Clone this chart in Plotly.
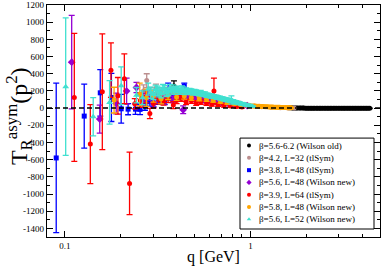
import plotly.graph_objects as go

# ---------------- data ----------------
black_q = [0.387, 1.62, 1.65, 1.68, 1.71, 1.74, 1.77, 1.80, 1.84, 1.87, 1.91, 1.94, 1.98, 2.02, 2.06,
           2.10, 2.14, 2.18, 2.22, 2.27, 2.31, 2.36, 2.40, 2.45, 2.50, 2.55, 2.60, 2.65, 2.70, 2.75,
           2.81, 2.86, 2.92, 2.98, 3.04, 3.10, 3.16, 3.22, 3.28, 3.35, 3.41, 3.48, 3.55, 3.62, 3.69,
           3.76, 3.84, 3.91, 3.99, 4.07, 4.15, 4.23, 4.31, 4.40]
black_v = [256, 3, 3, 2, 2, 2, 1, 1, 1, 0, 0, 0, -1, -1, -1, -1, -2, -2, -2, -2, -2, -2, -3, -3, -3,
           -3, -3, -3, -3, -3, -3, -3, -3, -3, -3, -3, -3, -3, -3, -3, -3, -3, -3, -3, -3, -3, -3,
           -3, -3, -3, -3, -3, -3, -3]
black_e = [60, 4, 4, 4, 3, 3, 3, 3, 3, 3, 3, 3, 3, 3, 3, 3, 3, 3, 3, 3, 3, 3, 3, 3, 3, 3, 3, 3, 3,
           3, 3, 3, 3, 3, 3, 3, 3, 3, 3, 3, 3, 3, 3, 3, 3, 3, 3, 3, 3, 3, 3, 3, 3, 3]

rosy_q = [0.265, 0.276, 0.29, 0.31, 0.33, 0.355, 0.38, 0.41, 0.44, 0.47, 0.51, 0.55, 0.60, 0.65,
          0.71, 0.78, 0.86, 0.95, 1.05, 1.15, 1.30, 1.45, 1.60, 1.72]
rosy_v = [200, 320, 180, 230, 190, 200, 210, 190, 180, 170, 160, 145, 130, 115, 100, 80, 60, 40,
          25, 15, 8, 4, 2, 1]
rosy_e = [70, 80, 60, 50, 45, 42, 40, 38, 35, 32, 30, 28, 26, 24, 22, 20, 18, 15, 12, 10, 8, 6, 5, 4]

blue_q = [0.0897, 0.127, 0.155, 0.178, 0.201, 0.219, 0.240, 0.254, 0.27, 0.287, 0.30, 0.32, 0.345,
          0.36, 0.38, 0.41, 0.44, 0.47, 0.51, 0.55, 0.60, 0.65, 0.71, 0.78, 0.85]
blue_v = [-580, -93, 178, 124, -8, -12, -12, -15, 30, 73, 60, 90, 80, 200, 110, 130, 256, 120, 110,
          100, 90, 75, 60, 45, 35]
blue_e = [870, 372, 271, 280, 167, 65, 60, 60, 55, 50, 45, 45, 40, 90, 40, 35, 35, 30, 28, 25, 22,
          20, 18, 15, 12]

purple_q = [0.1087, 0.154, 0.189, 0.215, 0.243, 0.262, 0.28, 0.30, 0.32, 0.34, 0.36, 0.385, 0.41,
            0.434, 0.46, 0.49, 0.52, 0.56, 0.60, 0.65, 0.70, 0.76, 0.82, 0.89, 0.96]
purple_v = [535, -128, 54, 198, 240, 100, 150, 60, 120, 90, 140, 100, 130, -20, 120, 110, 100, 95,
            85, 75, 65, 55, 45, 35, 28]
purple_e = [545, 163, 120, 150, 60, 70, 60, 50, 45, 45, 40, 38, 35, 45, 30, 28, 26, 24, 22, 20, 18,
            16, 14, 12, 10]

red_q = [0.1123, 0.137, 0.159, 0.177, 0.193, 0.209, 0.223, 0.238, 0.255, 0.273, 0.287, 0.30, 0.32,
         0.34, 0.36, 0.384, 0.40, 0.425, 0.45, 0.48, 0.51, 0.54, 0.58, 0.62, 0.636, 0.67, 0.72, 0.78,
         0.84, 0.90]
red_v = [124, -419, 190, 442, 143, 341, -876, 50, 90, 131, -62, 54, 100, 80, 110, 35, 90, 113, 70,
         85, 60, 70, 55, 45, 198, 40, 30, 25, 18, 12]
red_e = [745, 460, 674, 318, 213, 290, 363, 60, 80, 70, 60, 55, 50, 45, 45, 40, 38, 35, 30, 30, 28,
         26, 24, 22, 150, 20, 18, 16, 14, 12]

orange_q = [0.184, 0.253, 0.275, 0.30, 0.33, 0.36, 0.40, 0.44, 0.48, 0.53, 0.58, 0.63, 0.69, 0.75,
            0.82, 0.89,
            0.96, 0.99, 1.02, 1.04, 1.06, 1.08, 1.10, 1.12, 1.14, 1.16, 1.18, 1.20, 1.22, 1.24, 1.26,
            1.28, 1.30, 1.32, 1.34, 1.36, 1.38, 1.40, 1.42, 1.44, 1.46, 1.48, 1.50, 1.52, 1.54, 1.56,
            1.58, 1.60, 1.62, 1.64, 1.66]
orange_v = [93, 160, 120, 140, 110, 150, 130, 140, 120, 110, 100, 90, 75, 62, 50, 40,
            32, 29, 26, 25, 24, 23, 22, 21, 20, 19, 18, 17, 16, 15, 14, 14, 13, 12, 11, 11, 10, 10,
            9, 9, 8, 8, 7, 7, 6, 6, 5, 5, 4, 4, 3]
orange_e = [150, 130, 100, 70, 60, 50, 40, 35, 30, 25, 22, 20, 18, 15, 12, 10,
            8, 7, 6, 6, 5, 5, 5, 5, 5, 4, 4, 4, 4, 4, 4, 4, 4, 3, 3, 3, 3, 3, 3, 3, 3, 3, 3, 3, 3,
            3, 3, 3, 3, 3, 3]

turq_q = [0.1009, 0.142, 0.174, 0.201, 0.243, 0.262, 0.281,
          0.29, 0.30, 0.308, 0.315, 0.322, 0.33, 0.338, 0.345, 0.352, 0.36, 0.368, 0.375, 0.383,
          0.39, 0.398, 0.405, 0.413, 0.42, 0.428, 0.435, 0.443,
          0.45, 0.46, 0.47, 0.48, 0.49, 0.50, 0.51, 0.52, 0.53, 0.54, 0.55, 0.56, 0.57, 0.58, 0.59,
          0.60, 0.61, 0.62,
          0.635, 0.65, 0.66, 0.67, 0.685, 0.70, 0.71, 0.72, 0.735, 0.75, 0.76, 0.775, 0.79, 0.805,
          0.82, 0.835, 0.85, 0.865, 0.88, 0.895, 0.91, 0.925, 0.94, 0.955, 0.97, 0.985, 1.00, 1.015,
          1.03]
turq_v = [250, -101, 66, 260, 150, 120, 220,
          180, 160, 210, 200, 185, 170, 225, 215, 180, 190, 235, 205, 230, 200, 215, 220, 195, 200,
          225, 215, 190,
          205, 190, 200, 195, 180, 190, 185, 175, 170, 180, 165, 160, 165, 150, 150, 145, 140, 140,
          135, 130, 125, 122, 118, 112, 108, 105, 100, 96, 92, 88, 95, 80, 72, 70, 62, 58, 55, 50,
          45, 42, 38, 34, 30, 27, 24, 21, 18]
turq_e = [800, 223, 253, 220, 90, 80, 70,
          65, 60, 58, 55, 55, 52, 50, 48, 45, 44, 42, 42, 40, 40, 38, 37, 35, 35, 34, 33, 32,
          30, 30, 30, 29, 28, 28, 28, 27, 26, 26, 25, 25, 25, 24, 24, 23, 23, 23,
          22, 22, 22, 21, 21, 20, 20, 20, 20, 20, 20, 20, 48, 18, 18, 17, 16, 16, 15, 15, 14, 13,
          12, 11, 10, 9, 8, 8, 7]

names = ["β=5.6-6.2 (Wilson old)", "β=4.2, L=32 (tlSym)", "β=3.8, L=48 (tlSym)",
         "β=5.6, L=48 (Wilson new)", "β=3.9, L=64 (tlSym)", "β=5.8, L=48 (Wilson new)",
         "β=5.6, L=52 (Wilson new)"]

y_ticks = list(range(-1400, 1201, 200))

# ---------------- styles ----------------
colors = ["#000000", "#bc8f8f", "#0000ff", "#9400d3", "#ff0000", "#ffa500", "#40e0d0"]
symbols = ["circle", "circle", "square", "diamond", "circle", "circle", "triangle-up"]
msizes = [5, 5, 5, 6, 5, 5, 6]
series = [(black_q, black_v, black_e), (rosy_q, rosy_v, rosy_e), (blue_q, blue_v, blue_e),
          (purple_q, purple_v, purple_e), (red_q, red_v, red_e), (orange_q, orange_v, orange_e),
          (turq_q, turq_v, turq_e)]

FONT = "Liberation Serif"
fig = go.Figure()

for (q, v, e), c, s, ms, n in zip(series, colors, symbols, msizes, names):
    fig.add_trace(go.Scatter(
        x=q, y=v, mode="markers", name=n, showlegend=False,
        marker=dict(color=c, symbol=s, size=ms, line=dict(width=0)),
        error_y=dict(type="data", array=e, visible=True, color=c, thickness=1.3, width=3),
    ))

# ---------------- custom legend (compact, like the original) ----------------
L, R, T, B = 47, 380, 4.8, 237.0
W, H = R - L, B - T
box = dict(x0=(240 - L) / W, x1=(374 - L) / W, y0=(B - 229) / H, y1=(B - 138) / H)
first_y = (B - 145.5) / H
step = 12.3 / H
mark_x = (249 - L) / W
text_x = (257 - L) / W

fig.add_shape(type="rect", xref="paper", yref="paper", **box,
              line=dict(color="black", width=1), fillcolor="white", layer="below")
for i, (c, s, n) in enumerate(zip(colors, symbols, names)):
    yy = first_y - i * step
    fig.add_trace(go.Scatter(x=[mark_x], y=[yy], xaxis="x2", yaxis="y2", mode="markers",
                             showlegend=False, hoverinfo="skip",
                             marker=dict(color=c, symbol=s, size=4)))
    fig.add_annotation(x=text_x, y=yy, xref="paper", yref="paper", text=n, showarrow=False,
                       xanchor="left", yanchor="middle", font=dict(family=FONT, size=9, color="black"))

# y-axis title (placed as in the original)
fig.add_annotation(x=(19 - L) / W, y=(B - 116) / H, xref="paper", yref="paper",
                   text="T<sub>R</sub><sup>asym</sup>(p<sup>2</sup>)", textangle=-90,
                   showarrow=False, xanchor="center", yanchor="middle",
                   font=dict(family=FONT, size=24, color="black"))

# zero line
fig.add_shape(type="line", xref="paper", yref="y", x0=0, x1=1, y0=0, y1=0,
              line=dict(color="black", width=1.5, dash="5px,3px"))

fig.update_layout(
    width=382, height=267,
    margin=dict(l=L, r=382 - R, t=T, b=267 - B, autoexpand=False),
    paper_bgcolor="white", plot_bgcolor="white",
    font=dict(family=FONT, size=9, color="black"),
    xaxis=dict(type="log", range=[-1.09691, 0.69897], automargin=False,
               tickvals=[0.1, 1], ticktext=["0.1", "1"],
               ticks="inside", ticklen=6, tickwidth=1, tickcolor="black",
               showline=True, linecolor="black", linewidth=1.3, mirror="allticks",
               showgrid=False, zeroline=False,
               minor=dict(tickvals=[0.2, 0.3, 0.4, 0.5, 0.6, 0.7, 0.8, 0.9, 2, 3, 4, 5],
                          ticks="inside", ticklen=3, tickcolor="black", showgrid=False),
               title=dict(text="q [GeV]", font=dict(family=FONT, size=16), standoff=0),
               tickfont=dict(family=FONT, size=9)),
    yaxis=dict(range=[-1500, 1200], automargin=False,
               tickvals=y_ticks, ticktext=[str(t) for t in y_ticks],
               ticks="inside", ticklen=6, tickwidth=1, tickcolor="black",
               showline=True, linecolor="black", linewidth=1.3, mirror="allticks",
               showgrid=False, zeroline=False,
               minor=dict(dtick=100, tick0=0, ticks="inside", ticklen=3, tickcolor="black",
                          showgrid=False),
               tickfont=dict(family=FONT, size=9)),
    xaxis2=dict(overlaying="x", range=[0, 1], visible=False, anchor="y2", automargin=False),
    yaxis2=dict(overlaying="y", range=[0, 1], visible=False, anchor="x2", automargin=False),
)

fig.write_html("out.html", config={"displayModeBar": False},
               post_script="document.body.style.margin='0px';document.body.style.overflow='hidden';")
